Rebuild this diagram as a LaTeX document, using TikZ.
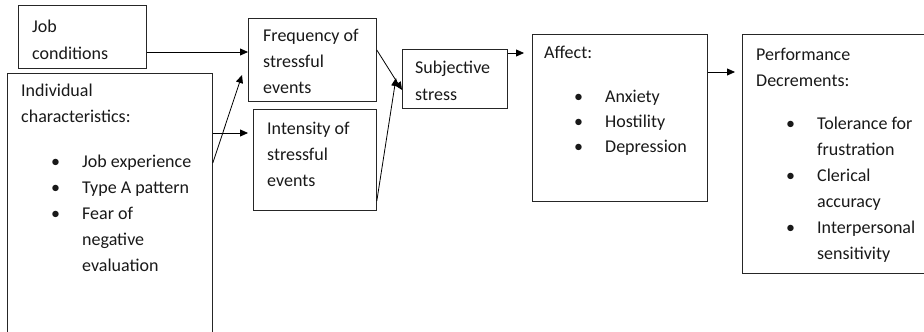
\documentclass[tikz,border=0pt]{standalone}
\usepackage{fontspec}
\setmainfont{Carlito}
\usetikzlibrary{arrows.meta}
\newcommand\mybul{\hspace*{30pt}\makebox[31pt][l]{\textbullet}}
\newcommand\myind{\hspace*{61pt}}
\begin{document}
\begin{tikzpicture}[x=1pt,y=-1pt,
  box/.style={draw=black!85, line width=0.8pt, inner sep=0pt, anchor=north west, minimum width=#1},
  txt/.style={anchor=base west, inner sep=0pt, font=\fontsize{18}{26}\selectfont, text=black!90},
  arr/.style={draw=black, line width=0.8pt, -{Triangle[length=8pt,width=7pt]}}]
\useasboundingbox (0,0) rectangle (924,332);
\clip (0,0) rectangle (924,332);
\fill[white] (0,0) rectangle (924,332);
% boxes
\node[box=128pt, minimum height=63pt] (job) at (18,5) {};
\node[box=205pt, minimum height=275pt] (ind) at (7,73) {};
\node[box=128pt, minimum height=83pt] (freq) at (248,18) {};
\node[box=123pt, minimum height=101pt] (inten) at (253,109) {};
\node[box=105pt, minimum height=59pt] (subj) at (402,49) {};
\node[box=175pt, minimum height=167pt] (aff) at (532,34) {};
\node[box=195pt, minimum height=239pt] (perf) at (742,34) {};
% texts
\node[txt] (jobT) at (32,32) {\parbox[t]{120pt}{\raggedright Job\\[1pt]conditions}};
\node[txt] (indT) at (21,96) {\parbox[t]{190pt}{\raggedright Individual\\characteristics:\\[19pt]
  \mybul Job experience\\ \mybul Type A pattern\\ \mybul Fear of\\ \myind negative\\ \myind evaluation}};
\node[txt] (freqT) at (263,41) {\parbox[t]{120pt}{\raggedright Frequency of\\stressful\\events}};
\node[txt] (intenT) at (267,134) {\parbox[t]{120pt}{\raggedright Intensity of\\stressful\\events}};
\node[txt] (subjT) at (415,73) {\parbox[t]{100pt}{\raggedright Subjective\\[1pt]stress}};
\node[txt] (affT) at (544,58) {\parbox[t]{170pt}{\raggedright Affect:\\[18pt]
  \mybul Anxiety\\[-1pt] \mybul Hostility\\[-1pt] \mybul Depression}};
\node[txt] (perfT) at (756,60) {\parbox[t]{200pt}{\raggedright Performance\\Decrements:\\[17pt]
  \mybul Tolerance for\\ \myind frustration\\ \mybul Clerical\\ \myind accuracy\\ \mybul Interpersonal\\ \myind sensitivity}};
% free ends
\coordinate (f1) at (242,75);
\coordinate (s1) at (396,78);
% connectors
\draw[arr] (job.east |- 0,52) -- (freq.west |- 0,52);
\draw[arr] (ind.east |- 0,163) -- (f1);
\draw[arr] (ind.east |- 0,133) -- ([xshift=-5pt]inten.west |- 0,133);
\draw[arr] (freq.east |- 0,50) -- (subj.west |- 0,90);
\draw[arr] (inten.east |- 0,201) -- (s1);
\draw[arr] (subj.east |- 0,53) -- ([xshift=-8pt]aff.west |- 0,53);
\draw[arr] (aff.east |- 0,72) -- ([xshift=-7pt]perf.west |- 0,72);
\end{tikzpicture}
\end{document}
